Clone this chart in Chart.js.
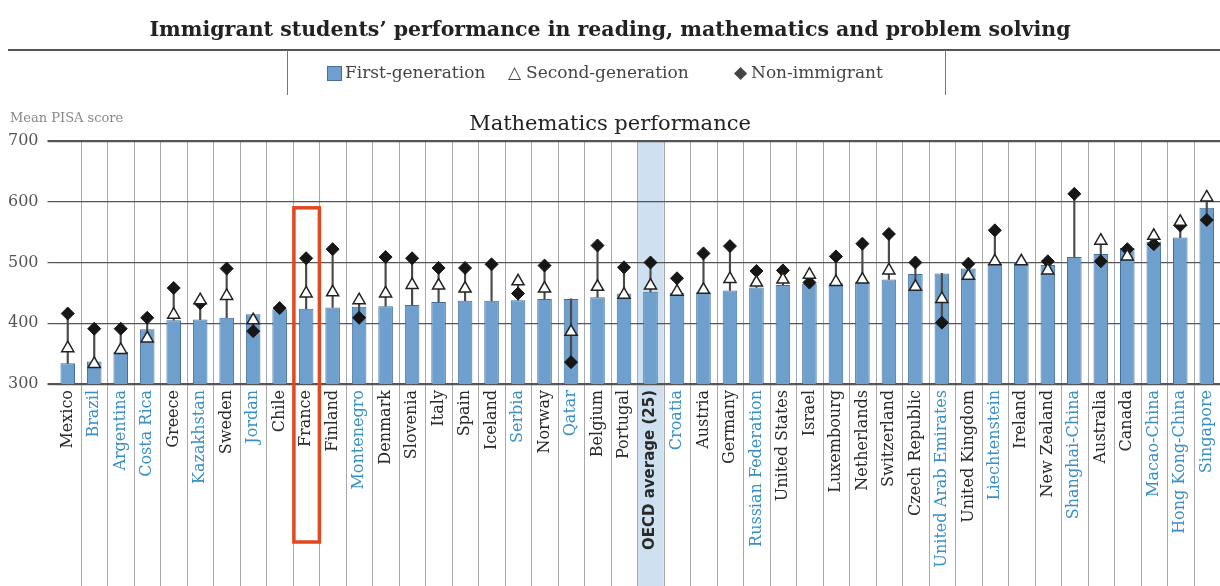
<!DOCTYPE html>
<html>
<head>
<meta charset="utf-8">
<script src="https://cdn.jsdelivr.net/npm/chart.js@4.4.1/dist/chart.umd.min.js"></script>
<style>
  html, body { margin: 0; padding: 0; background: #fff; }
  #wrap { position: relative; width: 1220px; height: 586px; overflow: hidden; font-family: "DejaVu Serif", serif; }
  #chart { position: absolute; left: 0; top: 0; }
  .title { position: absolute; left: 0; width: 1220px; top: 17px; text-align: center; font-weight: bold; font-size: 20.5px; color: #222; white-space: nowrap; }
  .rule { position: absolute; left: 8px; right: 0; top: 49px; border-top: 2px solid #555; }
  .sep { position: absolute; top: 50px; height: 45px; border-left: 1.5px solid #777; }
  .leg { position: absolute; top: 62px; font-size: 17px; color: #444; white-space: nowrap; }
  .sq { position: absolute; top: 66px; width: 13px; height: 13px; background: #6f9fcc; border: 1px solid #41709c; }
  .ytitle { position: absolute; left: 10px; top: 110px; font-size: 13px; color: #888; }
  .panel { position: absolute; left: 0; width: 1220px; top: 111px; text-align: center; font-size: 21px; color: #222; }
</style>
</head>
<body>
<div id="wrap">
  <canvas id="chart" width="1220" height="586"></canvas>
  <div class="title">Immigrant students’ performance in reading, mathematics and problem solving</div>
  <div class="rule"></div>
  <div class="sep" style="left:287px"></div>
  <div class="sep" style="left:945px"></div>
  <div class="sq" style="left:327px"></div>
  <div class="leg" style="left:345px">First-generation</div>
  <div class="leg" style="left:508px">△</div>
  <div class="leg" style="left:526px">Second-generation</div>
  <div class="leg" style="left:734px">◆</div>
  <div class="leg" style="left:751px">Non-immigrant</div>
  <div class="ytitle">Mean PISA score</div>
  <div class="panel">Mathematics performance</div>
</div>
<script>
// --- data ---
const categories = ['Mexico', 'Brazil', 'Argentina', 'Costa Rica', 'Greece', 'Kazakhstan', 'Sweden', 'Jordan', 'Chile', 'France',
  'Finland', 'Montenegro', 'Denmark', 'Slovenia', 'Italy', 'Spain', 'Iceland', 'Serbia', 'Norway', 'Qatar',
  'Belgium', 'Portugal', 'OECD average (25)', 'Croatia', 'Austria', 'Germany', 'Russian Federation', 'United States', 'Israel', 'Luxembourg',
  'Netherlands', 'Switzerland', 'Czech Republic', 'United Arab Emirates', 'United Kingdom', 'Liechtenstein', 'Ireland', 'New Zealand', 'Shanghai-China', 'Australia',
  'Canada', 'Macao-China', 'Hong Kong-China', 'Singapore'];

const firstGen = [334, 337, 353, 390, 405, 406, 409, 415, 423, 424,
  426, 427, 428, 430, 435, 437, 437, 438, 440, 440,
  443, 449, 452, 450, 451, 454, 459, 463, 465, 466,
  468, 472, 481, 482, 490, 498, 501, 496, 509, 514,
  524, 534, 541, 590];

const secondGen = [359, 333, 356, 375, 414, 438, 445, 405, null, 449,
  451, 438, 449, 463, 462, 457, null, 469, 457, 386,
  460, 447, 462, 452, 455, 473, 467, 472, 480, 468,
  472, 487, 460, 440, 478, 502, 502, 487, null, 536,
  510, 544, 567, 607];

const nonImmigrant = [416, 391, 391, 409, 458, 433, 490, 387, 425, 507,
  522, 409, 509, 507, 491, 491, 497, 449, 495, 336,
  528, 492, 500, 474, 515, 527, 486, 487, 467, 510,
  531, 547, 500, 401, 498, 553, null, 502, 613, 502,
  522, 530, 561, 570];

const yTicks = [300, 400, 500, 600, 700];

const partners = ['Brazil', 'Argentina', 'Costa Rica', 'Kazakhstan', 'Jordan', 'Montenegro', 'Serbia', 'Qatar', 'Croatia',
  'Russian Federation', 'United Arab Emirates', 'Liechtenstein', 'Shanghai-China', 'Macao-China', 'Hong Kong-China', 'Singapore'];
const averageLabel = 'OECD average (25)';
const highlighted = 'France';

// vertical stem between lowest and highest mark of each country
const stems = categories.map((c, i) => {
  const v = [firstGen[i], secondGen[i], nonImmigrant[i]].filter(x => x != null);
  return [Math.min(...v), Math.max(...v)];
});

const decor = {
  id: 'decor',
  beforeDraw(chart) {
    const { ctx, chartArea, scales: { x } } = chart;
    const half = (x.getPixelForValue(1) - x.getPixelForValue(0)) / 2;
    ctx.save();
    // OECD average column band
    const ai = categories.indexOf(averageLabel);
    ctx.fillStyle = '#cfe1f0';
    ctx.fillRect(x.getPixelForValue(ai) - half, chartArea.top, half * 2, chart.height - chartArea.top);
    // column separators, running down through the labels
    ctx.strokeStyle = '#aaaaaa';
    ctx.lineWidth = 1;
    for (let i = 1; i < categories.length; i++) {
      const px = Math.round(x.getPixelForValue(i) - half) + 0.5;
      ctx.beginPath();
      ctx.moveTo(px, chartArea.top);
      ctx.lineTo(px, chart.height);
      ctx.stroke();
    }
    ctx.restore();
  },
  afterDraw(chart) {
    const { ctx, chartArea, scales: { x, y } } = chart;
    const half = (x.getPixelForValue(1) - x.getPixelForValue(0)) / 2;
    const fi = categories.indexOf(highlighted);
    const top = y.getPixelForValue(590);
    ctx.save();
    ctx.strokeStyle = '#e2471f';
    ctx.lineWidth = 3.5;
    ctx.strokeRect(x.getPixelForValue(fi) - half + 1, top, half * 2 - 1, chartArea.bottom + 158 - top);
    ctx.restore();
  }
};

new Chart(document.getElementById('chart'), {
  type: 'bar',
  data: {
    labels: categories,
    datasets: [
      {
        type: 'line', label: 'Second-generation', data: secondGen, showLine: false,
        pointStyle: 'triangle', pointRadius: 7, pointBackgroundColor: '#fff',
        pointBorderColor: '#222', pointBorderWidth: 1.5, order: 1
      },
      {
        type: 'line', label: 'Non-immigrant', data: nonImmigrant, showLine: false,
        pointStyle: 'rectRot', pointRadius: 6.5, pointBackgroundColor: '#161616',
        pointBorderColor: '#161616', pointBorderWidth: 1, order: 2
      },
      {
        label: 'stem', data: stems, backgroundColor: '#4a4a4a', barThickness: 1.5,
        grouped: false, order: 3
      },
      {
        label: 'First-generation', data: firstGen, backgroundColor: '#6f9fcc',
        borderColor: '#41709c', borderWidth: 1, barPercentage: 0.55, categoryPercentage: 1,
        grouped: false, order: 4
      }
    ]
  },
  options: {
    responsive: false,
    animation: false,
    layout: { autoPadding: false, padding: { top: 141, left: 0, right: 0, bottom: 0 } },
    plugins: { legend: { display: false }, tooltip: { enabled: false } },
    scales: {
      x: {
        grid: { display: false },
        border: { display: false },
        ticks: {
          autoSkip: false, minRotation: 90, maxRotation: 90, padding: -2,
          font: ctx => categories[ctx.index] === averageLabel
            ? { family: 'DejaVu Sans', size: 15, weight: 'bold' }
            : { family: 'DejaVu Serif', size: 16 },
          color: ctx => partners.includes(categories[ctx.index]) ? '#3a90c4' : '#2a2a2a'
        },
        afterFit: s => { s.height = 202; s.paddingLeft = 0; s.paddingRight = 0; }
      },
      y: {
        min: yTicks[0], max: yTicks[yTicks.length - 1],
        afterBuildTicks: s => { s.ticks = yTicks.map(v => ({ value: v })); },
        border: { display: false },
        grid: {
          color: '#555',
          lineWidth: ctx => (ctx.tick && (ctx.tick.value === 700 || ctx.tick.value === 300)) ? 2.2 : 1.2,
          tickLength: 7
        },
        ticks: { font: { family: 'DejaVu Serif', size: 16 }, color: '#555', padding: 9 },
        afterFit: s => { s.width = 54.5; }
      }
    }
  },
  plugins: [decor]
});
</script>
</body>
</html>
